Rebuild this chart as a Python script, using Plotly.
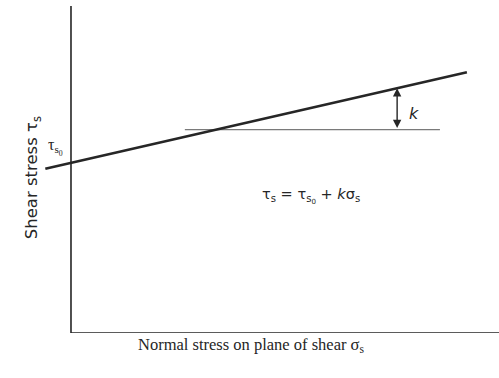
import plotly.graph_objects as go

# Coulomb-type shear strength law: tau_s = tau_s0 + k * sigma_s
tau_s0 = 5.2          # intercept on the shear-stress axis
k_slope = 0.3         # slope k
sigma_line = [-0.6, 9.25]          # extent of the strength line
sigma_ref = [2.66, 8.62]           # extent of the horizontal reference line
sigma_k = 7.62                     # where the slope arrow is drawn
x_range = [-0.724, 10.0]
y_range = [0.0, 10.0]

tau_line = [tau_s0 + k_slope * s for s in sigma_line]
tau_ref = tau_s0 + k_slope * 3.4   # level of reference line (meets strength line)
tau_k_top = tau_s0 + k_slope * sigma_k

ink = "#262626"

fig = go.Figure()

# axes drawn as lines from the origin
fig.add_trace(go.Scatter(x=[0, 0, x_range[1]], y=[y_range[1], 0, 0], mode="lines",
                         line=dict(color=ink, width=1.6), hoverinfo="skip"))
# horizontal reference line
fig.add_trace(go.Scatter(x=sigma_ref, y=[tau_ref, tau_ref], mode="lines",
                         line=dict(color="#7a7a7a", width=1.1), hoverinfo="skip"))
# strength line
fig.add_trace(go.Scatter(x=sigma_line, y=tau_line, mode="lines",
                         line=dict(color=ink, width=2.6), hoverinfo="skip"))

# double-headed arrow showing the slope k
fig.add_annotation(x=sigma_k, y=tau_k_top, ax=sigma_k, ay=tau_ref,
                   xref="x", yref="y", axref="x", ayref="y", text="",
                   showarrow=True, arrowhead=2, startarrowhead=2, arrowside="end+start",
                   arrowwidth=1.4, arrowsize=1.2, startarrowsize=1.2, arrowcolor=ink)
fig.add_annotation(x=sigma_k + 0.4, y=(tau_k_top + tau_ref) / 2 - 0.15, xref="x", yref="y",
                   text="<i>k</i>", showarrow=False,
                   font=dict(family="DejaVu Sans", size=16, color=ink))

# intercept label
fig.add_annotation(x=-0.36, y=tau_s0 + 0.5, xref="x", yref="y",
                   text="τ<sub>s<sub>0</sub></sub>", showarrow=False,
                   font=dict(family="Liberation Serif", size=16, color=ink))

# law
fig.add_annotation(x=5.6, y=4.2, xref="x", yref="y",
                   text="τ<sub>s</sub> = τ<sub>s<sub>0</sub></sub> + <i>k</i>σ<sub>s</sub>",
                   showarrow=False,
                   font=dict(family="DejaVu Sans", size=14.5, color=ink))

# axis titles (paper coordinates relative to the plotting area)
fig.add_annotation(x=-0.044, y=0.474, xref="paper", yref="paper",
                   text="Shear stress τ<sub>s</sub>", textangle=-90, showarrow=False,
                   font=dict(family="DejaVu Sans", size=16.5, color=ink))
fig.add_annotation(x=0.46, y=-0.073, xref="paper", yref="paper",
                   text="Normal stress on plane of shear σ<sub>s</sub>", showarrow=False,
                   font=dict(family="Liberation Serif", size=16.5, color=ink))

fig.update_xaxes(range=x_range, visible=False)
fig.update_yaxes(range=y_range, visible=False)
fig.update_layout(width=499, height=378, showlegend=False,
                  plot_bgcolor="white", paper_bgcolor="white",
                  margin=dict(l=40, r=0, t=6, b=45))

fig.write_html("out.html")
